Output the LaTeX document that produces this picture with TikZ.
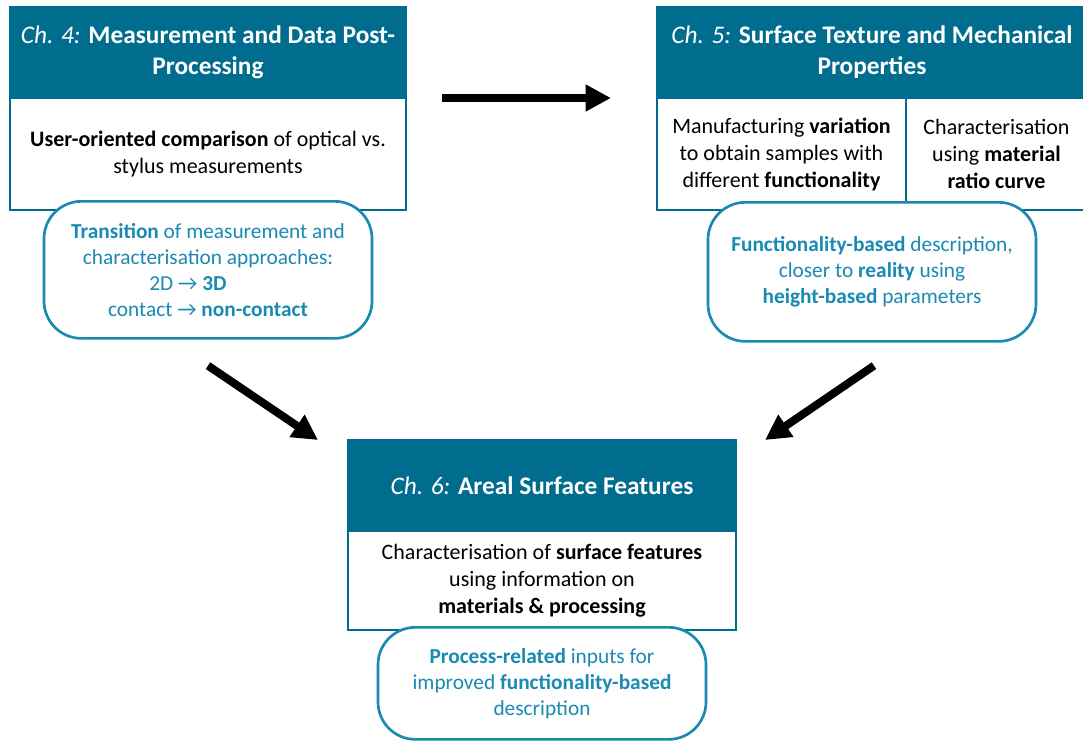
\documentclass[tikz,border=0pt]{standalone}
\usepackage{fontspec}
\setmainfont{Carlito}
\usetikzlibrary{arrows.meta, positioning, calc}
\definecolor{chapblue}{HTML}{006C8E}
\definecolor{notecyan}{HTML}{1A8AB2}

\begin{document}
\begin{tikzpicture}[x=0.75pt, y=-0.75pt,
    chaphead/.style={rectangle, fill=chapblue, draw=chapblue, line width=1.5pt, text=white,
        align=center, inner sep=0pt, outer sep=0pt, minimum height=68.25pt,
        font=\fontsize{19}{23.25}\selectfont},
    chapbody/.style={rectangle, fill=white, draw=chapblue, line width=1.5pt, align=center,
        inner sep=0pt, outer sep=0pt, minimum height=84pt,
        font=\fontsize{16.5}{20.25}\selectfont},
    note/.style={rectangle, rounded corners=28pt, fill=white, draw=notecyan, line width=2pt,
        text=notecyan, align=center, inner sep=0pt, minimum width=246pt,
        font=\fontsize{16}{19.5}\selectfont},
    bigarrow/.style={line width=6pt, -{Triangle[length=19pt, width=19pt]}}]
    \useasboundingbox (0,0) rectangle (1083,740);

    % Chapter 4
    \node[chaphead, minimum width=297pt, anchor=north west] (headA) at (10,7)
        {{\itshape Ch. 4:} \textbf{Measurement and Data Post-}\\ \textbf{Processing}};
    \node[chapbody, minimum width=297pt, below=0pt of headA] (bodyA)
        {\textbf{User-oriented comparison} of optical vs.\\ stylus measurements};

    % Chapter 5, body split in two cells
    \node[chaphead, minimum width=322.5pt, anchor=north west] (headB) at (657,7)
        {{\itshape Ch. 5:} \textbf{Surface Texture and Mechanical}\\ \textbf{Properties}};
    \node[chapbody, minimum width=186.75pt, anchor=north west] (bodyB1) at (headB.south west)
        {Manufacturing \textbf{variation}\\ to obtain samples with\\ different \textbf{functionality}};
    \node[chapbody, minimum width=135.75pt, anchor=north west] (bodyB2) at (bodyB1.north east)
        {Characterisation\\ using \textbf{material}\\ \textbf{ratio curve}};

    % Chapter 6
    \node[chaphead, minimum width=291pt, anchor=north west] (headC) at (348,440)
        {{\itshape Ch. 6:} \textbf{Areal Surface Features}};
    \node[chapbody, minimum width=291pt, minimum height=74.25pt, below=0pt of headC] (bodyC)
        {Characterisation of \textbf{surface features}\\ using information on\\
         \textbf{materials \& processing}};

    % rounded notes overlapping the boxes
    \node[note, minimum height=102.75pt, below=-7.5pt of bodyA] (noteA)
        {\textbf{Transition} of measurement and\\ characterisation approaches:\\
         2D → \textbf{3D}\rule{30pt}{0pt}\\ contact → \textbf{non-contact}};
    \node[note, minimum height=104.25pt, anchor=north, yshift=6.75pt] (noteB)
        at (bodyB1.south -| headB.south)
        {\textbf{Functionality-based} description,\\ closer to \textbf{reality} using\\
         \textbf{height-based} parameters};
    \node[note, minimum height=84pt, below=-3pt of bodyC] (noteC)
        {\textbf{Process-related} inputs for\\ improved \textbf{functionality-based}\\ description};

    % arrows
    \coordinate (startL) at ($(noteA.south)+(0,26)$);
    \coordinate (tipL) at ($(headC.north west)+(-30,0)$);
    \coordinate (startR) at ($(noteB.south)+(2,23)$);
    \coordinate (tipR) at ($(headC.north east)+(29,0)$);
    \draw[bigarrow, shorten <=27pt, shorten >=34.5pt] (headA.south east) -- (headB.south west);
    \draw[bigarrow] (startL) -- (tipL);
    \draw[bigarrow] (startR) -- (tipR);
\end{tikzpicture}
\end{document}
